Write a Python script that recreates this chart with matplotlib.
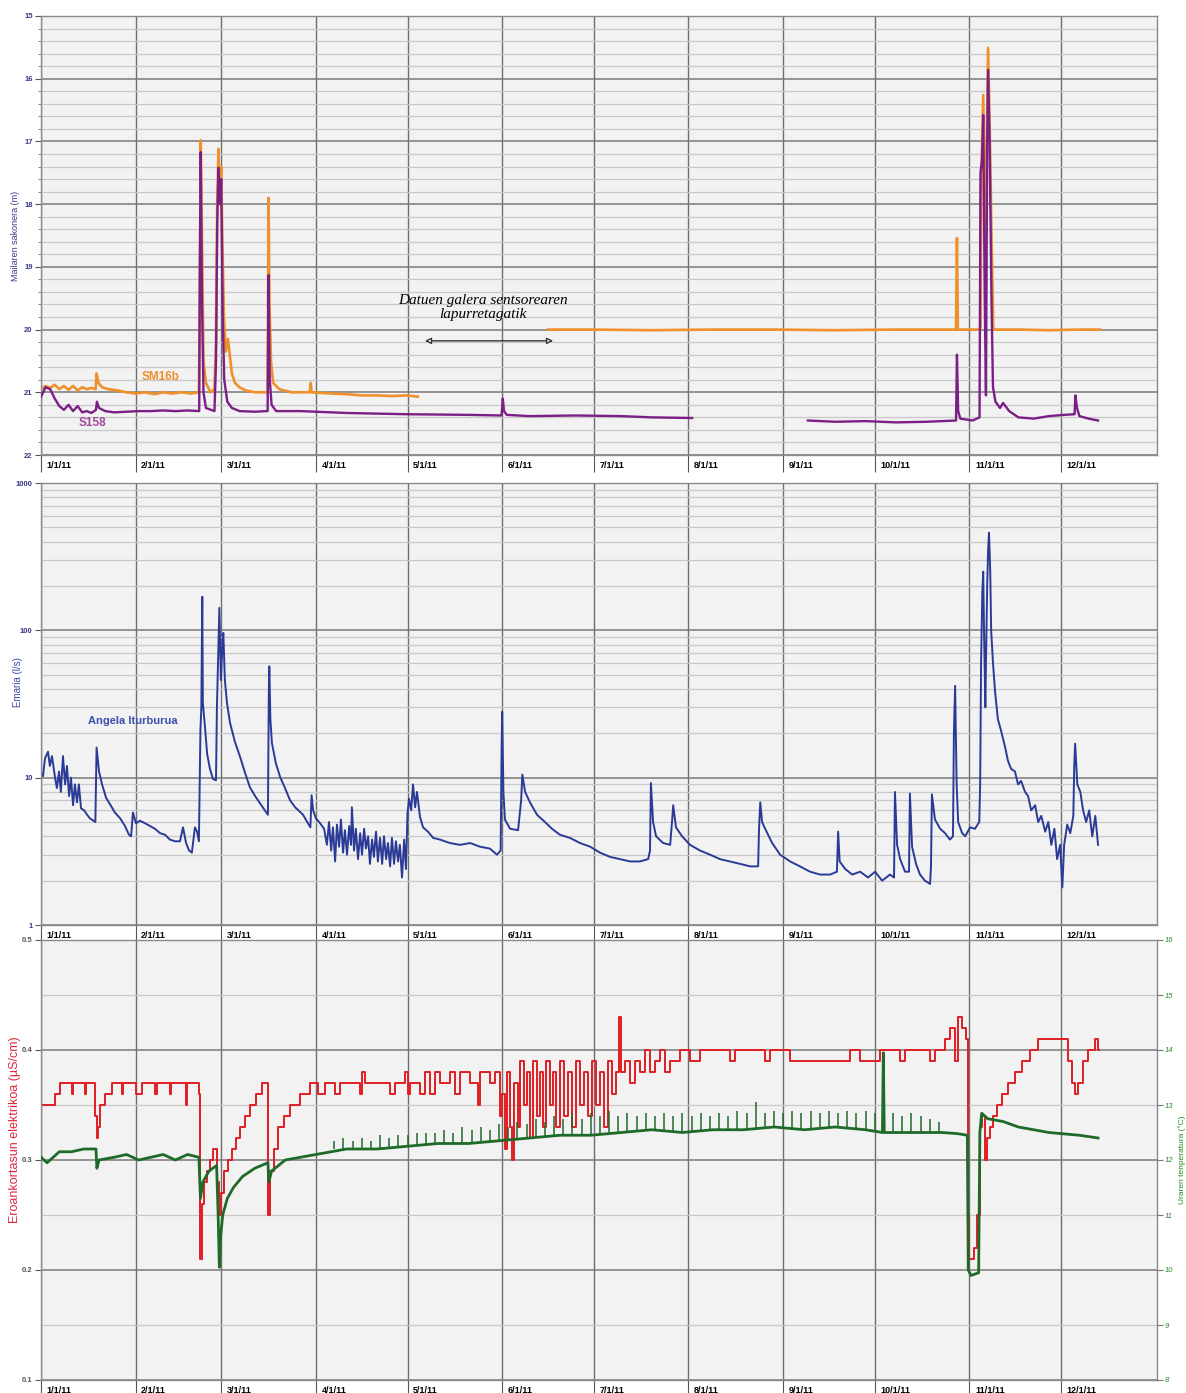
import numpy as np
import matplotlib
matplotlib.use('Agg')
import matplotlib.pyplot as plt
import matplotlib.dates as mdates
from matplotlib.transforms import ScaledTranslation
from matplotlib.ticker import FixedLocator, NullFormatter
from datetime import datetime

plt.rcParams['font.family'] = ['Liberation Sans', 'DejaVu Sans']

# ---------------- data (day offset from 1 Jan 2011, value) ----------------
month_labels = ['1/1/11', '2/1/11', '3/1/11', '4/1/11', '5/1/11', '6/1/11',
                '7/1/11', '8/1/11', '9/1/11', '10/1/11', '11/1/11', '12/1/11']
month_dates = [datetime(2011, m, 1) for m in range(1, 13)]

sm16b_a = [(0, 20.95), (1.5, 20.9), (3, 20.93), (4.5, 20.88), (6, 20.95), (7.5, 20.9),
           (9, 20.96), (10.5, 20.9), (12, 20.97), (13.5, 20.92), (15, 20.95), (16.5, 20.93),
           (17.9, 20.95), (18.2, 20.7), (18.8, 20.85), (20, 20.92), (22, 20.95), (25, 20.97),
           (28, 21.0), (31, 21.02), (34, 21.0), (37, 21.03), (40, 21.0), (43, 21.02), (46, 21.0),
           (49, 21.02), (51.7, 21.0), (52.0, 19.5), (52.3, 16.98), (52.7, 18.5), (53.2, 20.5),
           (54, 20.85), (55.5, 21.0), (56.8, 20.95), (57.3, 20.2), (57.7, 18.0), (58.1, 17.12),
           (58.5, 17.9), (59.0, 17.4), (59.4, 18.6), (59.9, 19.8), (60.5, 20.35), (61.2, 20.15),
           (61.8, 20.4), (62.5, 20.7), (63.5, 20.85), (65, 20.92), (67, 20.97), (70, 21.0),
           (74.2, 21.0), (74.5, 17.9), (74.8, 19.6), (75.3, 20.5), (76, 20.85), (78, 20.95),
           (82, 21.0), (86, 21.0), (88, 21.0), (88.3, 20.85), (88.6, 21.0), (95, 21.02),
           (100, 21.03), (105, 21.05), (110, 21.05), (115, 21.06), (120, 21.05), (123.4, 21.07)]
sm16b_b = [(166, 20.0), (180, 20.0), (200, 20.01), (220, 20.0), (240, 20.0), (260, 20.01),
           (280, 20.0), (299.6, 20.0), (299.9, 18.54), (300.2, 20.0), (307.6, 20.0),
           (307.9, 17.5), (308.5, 16.26), (309.1, 18.5), (309.5, 17.5), (310.1, 15.51),
           (310.7, 17.0), (311.4, 19.0), (311.8, 20.0), (320, 20.0), (330, 20.01),
           (340, 20.0), (346.8, 20.0)]

s158_a = [(0, 21.07), (1.5, 20.92), (3, 20.95), (4.5, 21.1), (6, 21.22), (7.5, 21.28),
          (9, 21.2), (10.5, 21.3), (12, 21.22), (13.5, 21.32), (15, 21.3), (16.5, 21.33),
          (18, 21.28), (18.3, 21.15), (19, 21.25), (21, 21.3), (24, 21.32), (28, 21.31),
          (32, 21.3), (36, 21.3), (40, 21.29), (44, 21.3), (48, 21.29), (51.8, 21.3),
          (52.0, 19.0), (52.3, 17.17), (52.7, 19.5), (53.2, 21.0), (54, 21.25), (56.8, 21.3),
          (57.3, 20.5), (57.7, 18.3), (58.1, 17.42), (58.6, 18.0), (59.0, 17.6), (59.5, 19.8),
          (60.0, 20.8), (61, 21.15), (62.5, 21.25), (65, 21.3), (70, 21.31), (74.2, 21.3),
          (74.5, 19.13), (74.9, 20.8), (75.5, 21.2), (77, 21.3), (85, 21.3), (100, 21.33),
          (120, 21.35), (140, 21.36), (150.8, 21.37), (151.2, 21.1), (151.6, 21.3),
          (152.5, 21.36), (160, 21.38), (175, 21.37), (190, 21.38), (200, 21.4), (213.2, 21.41)]
s158_b = [(251.1, 21.45), (260, 21.47), (270, 21.46), (280, 21.48), (290, 21.47),
          (299.6, 21.45), (299.9, 20.4), (300.3, 21.3), (301, 21.42), (305, 21.45),
          (307.3, 21.4), (307.6, 17.5), (308.1, 17.3), (308.5, 16.58), (309.0, 19.5),
          (309.4, 21.05), (309.8, 17.0), (310.1, 15.86), (310.6, 17.0), (311.2, 19.5),
          (311.7, 20.92), (312.5, 21.15), (314, 21.25), (315, 21.17), (317, 21.3), (320, 21.4),
          (325, 21.42), (330, 21.38), (335, 21.36), (338.4, 21.35), (338.7, 21.05),
          (339.2, 21.25), (340, 21.38), (343, 21.42), (346.1, 21.45)]

angela = [(0, 11.0), (0.65, 10.2), (1.3, 13.5), (2.3, 15), (2.9, 12), (3.6, 14), (4.6, 10),
          (5.2, 8.5), (5.9, 11), (6.5, 8), (7.2, 14), (7.9, 9), (8.5, 12), (9.2, 7.5), (9.8, 10),
          (10.5, 6.5), (11.1, 9), (11.8, 6.8), (12.4, 9), (13.1, 6.2), (14.1, 6), (15.1, 5.6),
          (16.0, 5.3), (17.8, 5.0), (18.2, 16), (19.0, 11), (20.0, 9), (21.3, 7.3), (22.6, 6.6),
          (24.2, 5.8), (25.9, 5.3), (27.5, 4.7), (28.8, 4.1), (29.5, 4.0), (30.1, 5.8),
          (31.1, 4.9), (32.4, 5.1), (34.1, 4.9), (35.7, 4.7), (37.3, 4.5), (39.0, 4.2),
          (40.6, 4.1), (42.2, 3.8), (43.9, 3.7), (45.5, 3.7), (46.5, 4.6), (47.5, 3.6),
          (48.5, 3.2), (49.4, 3.1), (50.4, 4.6), (51.1, 4.3), (51.7, 3.7), (52.2, 21),
          (52.5, 30), (52.8, 169), (53.0, 32), (53.7, 22), (54.4, 14.5), (55.3, 11.5),
          (56.3, 9.8), (57.3, 9.6), (57.6, 30), (57.96, 60), (58.4, 142), (58.9, 46),
          (59.4, 80), (59.7, 96), (60.2, 46), (60.9, 32), (61.9, 23.5), (63.5, 17.5),
          (65.2, 13.8), (66.8, 10.8), (68.4, 8.6), (70.1, 7.5), (71.7, 6.7), (73.3, 6.0),
          (74.3, 5.6), (74.6, 40), (74.75, 57), (75.1, 25), (75.6, 17.2), (76.9, 12.5),
          (78.3, 10.1), (79.9, 8.5), (81.5, 7.05), (83.2, 6.3), (85.8, 5.6), (87.4, 4.9),
          (88.2, 4.6), (88.6, 7.6), (89.1, 6.0), (90.0, 5.3), (91.4, 4.9), (92.7, 4.5),
          (93.6, 3.5), (94.3, 5.0), (95.0, 3.2), (95.6, 4.6), (96.3, 2.7), (96.9, 4.8),
          (97.6, 3.4), (98.2, 5.2), (98.9, 3.1), (99.5, 4.4), (100.2, 3.0), (100.9, 4.7),
          (101.5, 3.5), (101.8, 6.3), (102.5, 3.2), (103.1, 4.5), (103.8, 2.8), (104.5, 4.2),
          (105.1, 3.0), (105.8, 4.5), (106.4, 3.3), (107.1, 4.0), (107.7, 2.6), (108.4, 3.8),
          (109.0, 2.9), (109.7, 4.3), (110.3, 2.7), (111.0, 3.9), (111.7, 2.6), (112.3, 4.0),
          (113.0, 2.8), (113.6, 3.6), (114.3, 2.5), (114.9, 3.9), (115.6, 2.6), (116.2, 3.7),
          (116.9, 2.7), (117.5, 3.5), (118.2, 2.1), (118.9, 3.8), (119.5, 2.4), (120.0, 5.7),
          (120.5, 7.2), (121.2, 6.0), (121.8, 9.0), (122.5, 6.3), (123.1, 8.0), (124.1, 5.4),
          (125.1, 4.6), (126.7, 4.3), (128.4, 3.9), (130.6, 3.8), (133.9, 3.6), (137.2, 3.5),
          (140.5, 3.6), (143.7, 3.4), (147.0, 3.3), (149.3, 3.0), (150.5, 3.2), (150.8, 15),
          (151.0, 28), (151.4, 8), (151.9, 5.2), (153.6, 4.5), (156.2, 4.4), (157.2, 7),
          (157.6, 10.5), (158.5, 8), (160.1, 6.8), (162.4, 5.6), (165.0, 5.0), (167.3, 4.5),
          (169.9, 4.1), (173.2, 3.9), (176.5, 3.6), (179.8, 3.4), (183.0, 3.1), (186.3, 2.9),
          (189.6, 2.8), (192.9, 2.7), (196.1, 2.7), (198.8, 2.8), (199.4, 3.2), (199.7, 9.2),
          (200.4, 5.0), (201.4, 4.0), (203.7, 3.6), (206.0, 3.5), (206.6, 5.0), (207.0, 6.5),
          (207.9, 4.6), (209.9, 4.0), (212.5, 3.5), (215.8, 3.2), (219.1, 3.0), (222.3, 2.8),
          (225.6, 2.7), (228.9, 2.6), (232.2, 2.5), (234.8, 2.5), (235.1, 4.5), (235.5, 6.8),
          (236.1, 5.0), (237.1, 4.5), (239.4, 3.6), (242.0, 3.0), (245.3, 2.7), (248.5, 2.5),
          (251.8, 2.3), (255.1, 2.2), (258.4, 2.2), (260.6, 2.3), (261.0, 4.3), (261.5, 2.7),
          (263.3, 2.4), (265.6, 2.2), (268.2, 2.3), (270.8, 2.1), (273.1, 2.3), (275.4, 2.0),
          (278.0, 2.2), (279.3, 2.1), (279.6, 8.0), (280.3, 3.5), (281.3, 2.8), (282.9, 2.3),
          (284.2, 2.3), (284.5, 7.8), (285.2, 3.4), (286.5, 2.6), (287.8, 2.2), (289.4, 2.0),
          (291.1, 1.9), (291.4, 2.5), (291.7, 7.7), (292.7, 5.2), (294.4, 4.5), (296.0, 4.2),
          (297.6, 3.8), (298.6, 4.0), (298.9, 20), (299.3, 42), (299.8, 9), (300.3, 5.0),
          (301.6, 4.2), (302.6, 4.0), (304.2, 4.6), (305.8, 4.5), (307.2, 5.0), (307.5, 9),
          (307.8, 60), (308.2, 180), (308.5, 250), (308.8, 90), (309.2, 30), (309.4, 60),
          (309.8, 200), (310.1, 350), (310.4, 460), (310.8, 250), (311.1, 100), (311.7, 60),
          (312.4, 38), (313.3, 25), (314.3, 21), (315.7, 16), (316.6, 13), (317.6, 11.5),
          (318.9, 11), (319.9, 9), (320.9, 9.5), (322.2, 8), (323.2, 7.5), (324.2, 6),
          (325.5, 6.5), (326.5, 5), (327.5, 5.5), (328.8, 4.3), (329.8, 5), (330.8, 3.5),
          (331.8, 4.5), (332.7, 2.8), (333.7, 3.5), (334.4, 1.8), (335.0, 3.5), (336.0, 4.8),
          (337.0, 4.2), (338.0, 5.5), (338.3, 12), (338.6, 17), (339.3, 9), (340.3, 8),
          (341.2, 6), (342.2, 5), (343.2, 6), (344.2, 4), (345.2, 5.5), (346.1, 3.5)]

conductivity = [(0, 0.35), (4.6, 0.36), (6.2, 0.37), (10.2, 0.36), (10.5, 0.37), (14.4, 0.36),
                (14.7, 0.37), (17.7, 0.34), (18.2, 0.32), (18.7, 0.33), (19.3, 0.35), (21, 0.36),
                (23.2, 0.37), (26.5, 0.36), (26.9, 0.37), (31.1, 0.36), (33.1, 0.37), (37.3, 0.36),
                (38, 0.37), (42.2, 0.36), (42.6, 0.37), (47.5, 0.35), (47.8, 0.37), (51.7, 0.36),
                (52.2, 0.21), (52.7, 0.26), (53.4, 0.28), (54.4, 0.29), (55.3, 0.30), (56.3, 0.31),
                (57.6, 0.28), (58.3, 0.25), (58.9, 0.27), (59.9, 0.29), (61.2, 0.30), (62.5, 0.31),
                (63.9, 0.32), (65.2, 0.33), (66.8, 0.34), (68.4, 0.35), (70.4, 0.36), (72.4, 0.37),
                (74.3, 0.25), (75, 0.29), (76.3, 0.31), (77.6, 0.33), (79.6, 0.34), (81.5, 0.35),
                (84.8, 0.36), (88.1, 0.37), (90.7, 0.36), (93, 0.37), (96.3, 0.36), (97.9, 0.37),
                (104.5, 0.36), (105.1, 0.38), (106.1, 0.37), (114.3, 0.36), (115.9, 0.37),
                (119.2, 0.38), (120.2, 0.36), (120.8, 0.37), (124.1, 0.36), (125.7, 0.38),
                (127.4, 0.36), (129, 0.38), (130.6, 0.37), (133.9, 0.38), (135.6, 0.36),
                (137.2, 0.38), (140.5, 0.37), (143, 0.35), (143.7, 0.38), (147, 0.37),
                (148.7, 0.38), (150.3, 0.34), (151, 0.36), (151.9, 0.31), (152.6, 0.38),
                (153.6, 0.33), (154.2, 0.30), (154.9, 0.37), (156.2, 0.33), (156.8, 0.39),
                (158.2, 0.35), (159.1, 0.38), (160.1, 0.32), (161.1, 0.39), (162.4, 0.34),
                (163.4, 0.38), (164.4, 0.33), (165.4, 0.39), (166.7, 0.35), (167.6, 0.38),
                (168.6, 0.33), (169.9, 0.39), (171.2, 0.34), (172.6, 0.38), (173.9, 0.33),
                (175.2, 0.39), (176.5, 0.35), (177.8, 0.38), (179.1, 0.34), (180.4, 0.39),
                (181.7, 0.35), (183, 0.38), (184.3, 0.33), (185.7, 0.39), (187, 0.36),
                (188.3, 0.38), (189.3, 0.43), (189.9, 0.38), (191.2, 0.39), (192.9, 0.37),
                (194.5, 0.39), (196.1, 0.38), (197.8, 0.40), (199.4, 0.38), (201, 0.39),
                (202.7, 0.40), (204.3, 0.38), (206, 0.39), (209.2, 0.40), (212.5, 0.39),
                (215.8, 0.40), (225.6, 0.39), (227.3, 0.40), (237.1, 0.39), (238.7, 0.40),
                (245.3, 0.39), (264.9, 0.40), (268.2, 0.39), (274.7, 0.40), (281.3, 0.39),
                (282.9, 0.40), (291.1, 0.39), (292.7, 0.40), (296, 0.41), (297.6, 0.42),
                (299.3, 0.39), (300.3, 0.43), (301.6, 0.42), (302.9, 0.41), (303.5, 0.25),
                (303.9, 0.21), (305.6, 0.22), (306.5, 0.25), (307.5, 0.33), (308.1, 0.34),
                (309.1, 0.30), (309.8, 0.32), (310.8, 0.33), (311.7, 0.34), (313, 0.35),
                (314.7, 0.36), (316.6, 0.37), (318.9, 0.38), (321.2, 0.39), (323.8, 0.40),
                (326.5, 0.41), (336.3, 0.39), (337.6, 0.37), (338.6, 0.36), (339.6, 0.37),
                (341.2, 0.39), (342.9, 0.40), (345.2, 0.41), (346.1, 0.40), (346.5, 0.40)]

temperature = [(0, 12.05), (2, 11.95), (4, 12.05), (6, 12.15), (10, 12.15), (14, 12.2),
               (18, 12.2), (18.3, 11.85), (19, 12.0), (24, 12.05), (28, 12.1), (32, 12.0),
               (36, 12.05), (40, 12.1), (44, 12.0), (48, 12.1), (51.7, 12.05), (52.2, 11.3),
               (53, 11.6), (55, 11.8), (57.5, 11.9), (58.0, 11.0), (58.4, 10.05), (58.8, 10.6),
               (59.5, 11.0), (61, 11.3), (63, 11.5), (66, 11.7), (70, 11.85), (74.3, 11.95),
               (74.6, 11.6), (75.5, 11.8), (80, 12.0), (90, 12.1), (100, 12.2), (110, 12.2),
               (120, 12.25), (130, 12.3), (140, 12.3), (150, 12.35), (160, 12.4), (170, 12.45),
               (180, 12.45), (190, 12.5), (200, 12.55), (210, 12.5), (220, 12.55), (230, 12.55),
               (240, 12.6), (250, 12.55), (260, 12.6), (270, 12.55), (275.5, 12.5),
               (275.8, 13.95), (276.1, 12.5), (285, 12.5), (295, 12.5), (300, 12.48),
               (303.3, 12.45), (303.6, 10.0), (304.5, 9.9), (307.0, 9.95), (307.4, 12.5),
               (308, 12.85), (310, 12.75), (315, 12.7), (320, 12.6), (330, 12.5), (340, 12.45),
               (346.1, 12.4)]

# daily temperature excursions (day, low, high)
temp_spikes = [(96, 12.2, 12.35), (99, 12.2, 12.4), (102, 12.2, 12.35), (105, 12.2, 12.4),
               (108, 12.2, 12.35), (111, 12.2, 12.45), (114, 12.2, 12.4), (117, 12.22, 12.45),
               (120, 12.25, 12.45), (123, 12.25, 12.5), (126, 12.27, 12.5), (129, 12.3, 12.5),
               (132, 12.3, 12.55), (135, 12.3, 12.5), (138, 12.3, 12.6), (141, 12.32, 12.55),
               (144, 12.33, 12.6), (147, 12.34, 12.55), (150, 12.35, 12.65), (153, 12.36, 12.6),
               (156, 12.38, 12.7), (159, 12.4, 12.65), (162, 12.4, 12.75), (165, 12.42, 12.7),
               (168, 12.43, 12.8), (171, 12.45, 12.75), (174, 12.45, 12.85), (177, 12.45, 12.75),
               (180, 12.45, 12.85), (183, 12.47, 12.8), (186, 12.48, 12.9), (189, 12.5, 12.8),
               (192, 12.5, 12.85), (195, 12.52, 12.8), (198, 12.54, 12.85), (201, 12.55, 12.8),
               (204, 12.52, 12.85), (207, 12.5, 12.8), (210, 12.5, 12.85), (213, 12.52, 12.8),
               (216, 12.53, 12.85), (219, 12.54, 12.8), (222, 12.55, 12.85), (225, 12.55, 12.8),
               (228, 12.55, 12.9), (231, 12.56, 12.85), (234, 12.58, 13.05), (237, 12.6, 12.85),
               (240, 12.6, 12.9), (243, 12.58, 12.85), (246, 12.56, 12.9), (249, 12.55, 12.85),
               (252, 12.56, 12.9), (255, 12.58, 12.85), (258, 12.6, 12.9), (261, 12.59, 12.85),
               (264, 12.58, 12.9), (267, 12.57, 12.85), (270, 12.55, 12.9), (273, 12.53, 12.85),
               (279, 12.5, 12.85), (282, 12.5, 12.8), (285, 12.5, 12.85), (288, 12.5, 12.8),
               (291, 12.5, 12.75), (294, 12.5, 12.7)]

# ---------------- helpers ----------------
T0 = mdates.date2num(datetime(2011, 1, 1))
XMAX = T0 + 365.4


def xy(pairs):
    a = np.array(pairs, dtype=float)
    return T0 + a[:, 0], a[:, 1]


FACE = '#f2f2f2'
MAJ = '#7a7a7a'
MIN = '#c9c9c9'
VGRID = '#6e6e6e'

W, H = 1186, 1393
fig = plt.figure(figsize=(W / 100, H / 100), dpi=100)


def make_ax(top_px, bot_px):
    left, right = 41, 1157
    return fig.add_axes([left / W, 1 - bot_px / H, (right - left) / W, (bot_px - top_px) / H])


def style_x(ax):
    ax.set_xlim(T0, XMAX)
    ax.set_facecolor(FACE)
    ticks = [mdates.date2num(d) for d in month_dates]
    ax.set_xticks(ticks)
    ax.set_xticklabels(month_labels, ha='left', fontsize=6.5, fontweight='bold')
    ax.tick_params(axis='x', length=12, width=0.8, color='#555555', pad=-7.5, direction='out')
    off = ScaledTranslation(4 / 72, 0, fig.dpi_scale_trans)
    for lbl in ax.get_xticklabels():
        lbl.set_transform(lbl.get_transform() + off)
    for t in ticks:
        ax.axvline(t, color=VGRID, lw=1.0, zorder=0.5)
    for s in ax.spines.values():
        s.set_color('#8a8a8a')
        s.set_linewidth(1.0)
    ax.set_axisbelow(True)


# ---------------- top panel ----------------
ax1 = make_ax(16, 455)
style_x(ax1)
ax1.set_ylim(22, 15)
ax1.yaxis.set_major_locator(FixedLocator(np.arange(15, 23)))
ax1.yaxis.set_minor_locator(FixedLocator(np.arange(15, 22.01, 0.2)))
ax1.grid(True, axis='y', which='minor', color=MIN, lw=0.9, zorder=0)
ax1.grid(True, axis='y', which='major', color=MAJ, lw=1.1, zorder=0.4)
ax1.tick_params(axis='y', which='major', labelsize=5.5, labelcolor='#3a3a8c', length=4, color='#555555', pad=2)
ax1.tick_params(axis='y', which='minor', length=2, color='#777777')
for lbl in ax1.get_yticklabels():
    lbl.set_fontweight('bold')
ax1.set_ylabel('Mailaren sakonera (m)', fontsize=6.5, color='#3a3a8c', labelpad=3)

c_or = '#f0902a'
c_pu = '#7a1f86'
for seg in (sm16b_a, sm16b_b):
    x, y = xy(seg)
    ax1.plot(x, y, color=c_or, lw=1.9, zorder=2)
for seg in (s158_a, s158_b):
    x, y = xy(seg)
    ax1.plot(x, y, color=c_pu, lw=1.7, zorder=3)

ax1.text(T0 + 39, 20.76, 'SM16b', color=c_or, fontsize=8.5, fontweight='bold', ha='center', va='center')
ax1.text(T0 + 16.7, 21.49, 'S158', color='#a0489e', fontsize=8.5, fontweight='bold', ha='center', va='center')
ax1.text(T0 + 144.7, 19.65, 'Datuen galera sentsorearen\nlapurretagatik', fontsize=11,
         family=['Liberation Serif', 'DejaVu Serif'], style='italic', ha='center', va='center',
         linespacing=1.15)
ax1.annotate('', xy=(T0 + 124.8, 20.18), xytext=(T0 + 168.6, 20.18),
             arrowprops=dict(arrowstyle='<|-|>', color='#333333', lw=1.0, fc='white',
                             mutation_scale=9))

# ---------------- middle panel ----------------
ax2 = make_ax(483, 925)
style_x(ax2)
ax2.set_yscale('log')
ax2.set_ylim(1, 1000)
ax2.yaxis.set_major_locator(FixedLocator([1, 10, 100, 1000]))
ax2.yaxis.set_major_formatter(matplotlib.ticker.FixedFormatter(['1', '10', '100', '1000']))
minor_log = [m * 10 ** e for e in range(0, 3) for m in range(2, 10)]
ax2.yaxis.set_minor_locator(FixedLocator(minor_log))
ax2.yaxis.set_minor_formatter(NullFormatter())
ax2.grid(True, axis='y', which='minor', color=MIN, lw=0.9, zorder=0)
ax2.grid(True, axis='y', which='major', color=MAJ, lw=1.1, zorder=0.4)
ax2.tick_params(axis='y', which='major', labelsize=5.5, labelcolor='#3a3a8c', length=4, color='#555555', pad=2)
ax2.tick_params(axis='y', which='minor', length=0)
for lbl in ax2.get_yticklabels():
    lbl.set_fontweight('bold')
ax2.set_ylabel('Emaria (l/s)', fontsize=7, color='#3a4aa8', labelpad=3)
ax2.yaxis.set_label_coords(-0.016, 0.55)

c_bl = '#2b3a96'
x, y = xy(angela)
ax2.plot(x, y, color=c_bl, lw=1.4, zorder=2)
ax2.text(T0 + 30, 24.4, 'Angela Iturburua', color='#3b4fae', fontsize=8, fontweight='bold',
         ha='center', va='center')

# ---------------- bottom panel ----------------
ax3 = make_ax(940, 1380)
style_x(ax3)
ax3.set_ylim(0.1, 0.5)
ax3.yaxis.set_major_locator(FixedLocator([0.1, 0.2, 0.3, 0.4, 0.5]))
ax3.yaxis.set_major_formatter(matplotlib.ticker.FixedFormatter(['0.1', '0.2', '0.3', '0.4', '0.5']))
ax3.yaxis.set_minor_locator(FixedLocator([0.15, 0.25, 0.35, 0.45]))
ax3.grid(True, axis='y', which='minor', color=MIN, lw=0.9, zorder=0)
ax3.grid(True, axis='y', which='major', color=MAJ, lw=1.1, zorder=0.4)
ax3.tick_params(axis='y', which='major', labelsize=5.5, labelcolor='#555555', length=4, color='#555555', pad=2)
ax3.tick_params(axis='y', which='minor', length=0)
for lbl in ax3.get_yticklabels():
    lbl.set_fontweight('bold')
ax3.set_ylabel('Eroankortasun elektrikoa (µS/cm)', fontsize=9, color='#e0283a')
ax3.yaxis.set_label_coords(-0.018, 0.57)

c_red = '#e01e24'
x, y = xy(conductivity)
ax3.plot(x, y, color=c_red, lw=1.4, drawstyle='steps-post', zorder=2)

ax4 = ax3.twinx()
ax4.set_ylim(8, 16)
ax4.set_xlim(T0, XMAX)
ax4.yaxis.set_major_locator(FixedLocator(np.arange(8, 17)))
ax4.tick_params(axis='y', labelsize=5.5, labelcolor='#2a8a2a', length=4, color='#777777', pad=1.5)
for lbl in ax4.get_yticklabels():
    lbl.set_fontstyle('italic')
for s in ax4.spines.values():
    s.set_visible(False)
ax4.set_ylabel('Uraren tenperatura (°C)', fontsize=6, color='#1e8a1e', rotation=90)
ax4.yaxis.set_label_coords(1.0195, 0.5)

c_gr = '#1e6a28'
x, y = xy(temperature)
ax4.plot(x, y, color=c_gr, lw=2.0, zorder=3)
sp = np.array(temp_spikes, dtype=float)
ax4.vlines(T0 + sp[:, 0], sp[:, 1], sp[:, 2], color=c_gr, lw=1.1, zorder=3)

fig.savefig('out.png', dpi=100, facecolor='white')
